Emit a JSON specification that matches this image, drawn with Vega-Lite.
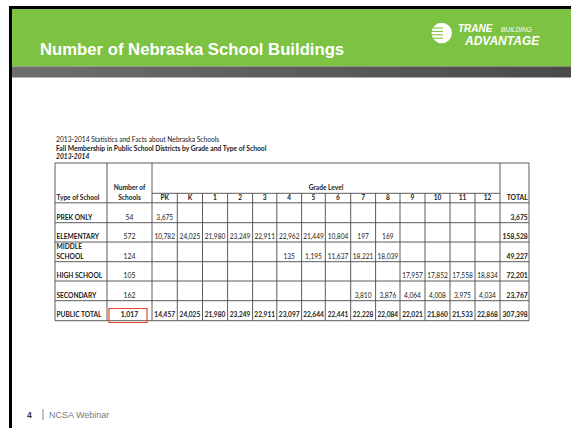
{
  "$schema": "https://vega.github.io/schema/vega-lite/v6.json",
  "width": 571,
  "height": 428,
  "padding": 0,
  "autosize": {"type": "fit", "contains": "padding"},
  "background": "white",
  "config": {"view": {"stroke": null}},
  "datasets": {
    "chrome": [
      {"part": "frame", "x": 9, "x2": 571, "y": 6, "y2": 9},
      {"part": "frame", "x": 9, "x2": 12, "y": 6, "y2": 428},
      {"part": "banner", "x": 12, "x2": 571, "y": 9, "y2": 66.5},
      {"part": "shade", "x": 12, "x2": 571, "y": 66.5, "y2": 77.5}
    ],
    "slideText": [
      {"item": "title", "label": "Number of Nebraska School Buildings", "x": 40, "y": 55},
      {"item": "trane", "label": "TRANE", "x": 458, "y": 31.5},
      {"item": "building", "label": "BUILDING", "x": 501, "y": 31.5},
      {"item": "advantage", "label": "ADVANTAGE", "x": 465, "y": 44.5},
      {"item": "page", "label": "4", "x": 27, "y": 418},
      {"item": "footer", "label": "NCSA Webinar", "x": 49, "y": 418},
      {"item": "cap1", "label": "2013-2014 Statistics and Facts about Nebraska Schools", "x": 56, "y": 141.5},
      {"item": "cap2", "label": "Fall Membership in Public School Districts by Grade and Type of School", "x": 56, "y": 150.5},
      {"item": "cap3", "label": "2013-2014", "x": 56, "y": 159.3}
    ],
    "logoMark": [{"x": 441.7, "y": 33}],
    "logoStripes": [
      {"x": 431, "x2": 443, "y": 28},
      {"x": 431, "x2": 443, "y": 31.4},
      {"x": 431, "x2": 443, "y": 34.8},
      {"x": 431, "x2": 443, "y": 38.2}
    ],
    "footerBar": [{"x": 43, "y": 409, "y2": 420}],
    "gridLines": [
      {"x": 55, "x2": 529, "y": 163, "y2": 163},
      {"x": 152, "x2": 500, "y": 193.3, "y2": 193.3},
      {"x": 55, "x2": 529, "y": 202.8, "y2": 202.8},
      {"x": 55, "x2": 529, "y": 222.7, "y2": 222.7},
      {"x": 55, "x2": 529, "y": 242, "y2": 242},
      {"x": 55, "x2": 529, "y": 261.7, "y2": 261.7},
      {"x": 55, "x2": 529, "y": 281, "y2": 281},
      {"x": 55, "x2": 529, "y": 300.7, "y2": 300.7},
      {"x": 55, "x2": 529, "y": 320.7, "y2": 320.7},
      {"x": 55, "x2": 55, "y": 163, "y2": 320.7},
      {"x": 107, "x2": 107, "y": 163, "y2": 320.7},
      {"x": 152, "x2": 152, "y": 163, "y2": 320.7},
      {"x": 500, "x2": 500, "y": 163, "y2": 320.7},
      {"x": 529, "x2": 529, "y": 163, "y2": 320.7},
      {"x": 177.3, "x2": 177.3, "y": 193.3, "y2": 320.7},
      {"x": 202.5, "x2": 202.5, "y": 193.3, "y2": 320.7},
      {"x": 227.6, "x2": 227.6, "y": 193.3, "y2": 320.7},
      {"x": 252.6, "x2": 252.6, "y": 193.3, "y2": 320.7},
      {"x": 276.8, "x2": 276.8, "y": 193.3, "y2": 320.7},
      {"x": 301.6, "x2": 301.6, "y": 193.3, "y2": 320.7},
      {"x": 325.3, "x2": 325.3, "y": 193.3, "y2": 320.7},
      {"x": 350.7, "x2": 350.7, "y": 193.3, "y2": 320.7},
      {"x": 375.6, "x2": 375.6, "y": 193.3, "y2": 320.7},
      {"x": 400, "x2": 400, "y": 193.3, "y2": 320.7},
      {"x": 425, "x2": 425, "y": 193.3, "y2": 320.7},
      {"x": 450, "x2": 450, "y": 193.3, "y2": 320.7},
      {"x": 475, "x2": 475, "y": 193.3, "y2": 320.7}
    ],
    "highlight": [{"x": 109, "x2": 147, "y": 308.5, "y2": 322.5}],
    "gradeCols": [
      {"grade": "PK", "xc": 164.7},
      {"grade": "K", "xc": 189.9},
      {"grade": "1", "xc": 215},
      {"grade": "2", "xc": 240.1},
      {"grade": "3", "xc": 264.7},
      {"grade": "4", "xc": 289.2},
      {"grade": "5", "xc": 313.5},
      {"grade": "6", "xc": 338},
      {"grade": "7", "xc": 363.1},
      {"grade": "8", "xc": 387.8},
      {"grade": "9", "xc": 412.5},
      {"grade": "10", "xc": 437.5},
      {"grade": "11", "xc": 462.5},
      {"grade": "12", "xc": 487.5}
    ],
    "tableRows": [
      {"type": "PREK ONLY", "yb": 219.6},
      {"type": "ELEMENTARY", "yb": 239},
      {"type": "MIDDLE SCHOOL", "yb": 258.7},
      {"type": "HIGH SCHOOL", "yb": 278},
      {"type": "SECONDARY", "yb": 297.6},
      {"type": "PUBLIC TOTAL", "yb": 317.4}
    ],
    "rowLabels": [
      {"type": "PREK ONLY", "line": "PREK ONLY", "dy": 0},
      {"type": "ELEMENTARY", "line": "ELEMENTARY", "dy": 0},
      {"type": "MIDDLE SCHOOL", "line": "MIDDLE", "dy": -10},
      {"type": "MIDDLE SCHOOL", "line": "SCHOOL", "dy": 0},
      {"type": "HIGH SCHOOL", "line": "HIGH SCHOOL", "dy": 0},
      {"type": "SECONDARY", "line": "SECONDARY", "dy": 0},
      {"type": "PUBLIC TOTAL", "line": "PUBLIC TOTAL", "dy": 0}
    ],
    "headers": [
      {"label": "Type of School", "x": 56.5, "y": 199.6, "align": "left"},
      {"label": "Number of", "x": 129.5, "y": 190.2, "align": "center"},
      {"label": "Schools", "x": 129.5, "y": 199.6, "align": "center"},
      {"label": "Grade Level", "x": 326, "y": 189.8, "align": "center"},
      {"label": "TOTAL", "x": 527.8, "y": 199.6, "align": "right"}
    ],
    "schools": [
      {"type": "PREK ONLY", "schools": 54, "total": 3675},
      {"type": "ELEMENTARY", "schools": 572, "total": 158528},
      {"type": "MIDDLE SCHOOL", "schools": 124, "total": 49227},
      {"type": "HIGH SCHOOL", "schools": 105, "total": 72201},
      {"type": "SECONDARY", "schools": 162, "total": 23767},
      {"type": "PUBLIC TOTAL", "schools": 1017, "total": 307398}
    ],
    "enrollment": [
      {"type": "PREK ONLY", "grade": "PK", "students": 3675},
      {"type": "ELEMENTARY", "grade": "PK", "students": 10782},
      {"type": "ELEMENTARY", "grade": "K", "students": 24025},
      {"type": "ELEMENTARY", "grade": "1", "students": 21980},
      {"type": "ELEMENTARY", "grade": "2", "students": 23249},
      {"type": "ELEMENTARY", "grade": "3", "students": 22911},
      {"type": "ELEMENTARY", "grade": "4", "students": 22962},
      {"type": "ELEMENTARY", "grade": "5", "students": 21449},
      {"type": "ELEMENTARY", "grade": "6", "students": 10804},
      {"type": "ELEMENTARY", "grade": "7", "students": 197},
      {"type": "ELEMENTARY", "grade": "8", "students": 169},
      {"type": "MIDDLE SCHOOL", "grade": "4", "students": 135},
      {"type": "MIDDLE SCHOOL", "grade": "5", "students": 1195},
      {"type": "MIDDLE SCHOOL", "grade": "6", "students": 11637},
      {"type": "MIDDLE SCHOOL", "grade": "7", "students": 18221},
      {"type": "MIDDLE SCHOOL", "grade": "8", "students": 18039},
      {"type": "HIGH SCHOOL", "grade": "9", "students": 17957},
      {"type": "HIGH SCHOOL", "grade": "10", "students": 17852},
      {"type": "HIGH SCHOOL", "grade": "11", "students": 17558},
      {"type": "HIGH SCHOOL", "grade": "12", "students": 18834},
      {"type": "SECONDARY", "grade": "7", "students": 3810},
      {"type": "SECONDARY", "grade": "8", "students": 3876},
      {"type": "SECONDARY", "grade": "9", "students": 4064},
      {"type": "SECONDARY", "grade": "10", "students": 4008},
      {"type": "SECONDARY", "grade": "11", "students": 3975},
      {"type": "SECONDARY", "grade": "12", "students": 4034},
      {"type": "PUBLIC TOTAL", "grade": "PK", "students": 14457},
      {"type": "PUBLIC TOTAL", "grade": "K", "students": 24025},
      {"type": "PUBLIC TOTAL", "grade": "1", "students": 21980},
      {"type": "PUBLIC TOTAL", "grade": "2", "students": 23249},
      {"type": "PUBLIC TOTAL", "grade": "3", "students": 22911},
      {"type": "PUBLIC TOTAL", "grade": "4", "students": 23097},
      {"type": "PUBLIC TOTAL", "grade": "5", "students": 22644},
      {"type": "PUBLIC TOTAL", "grade": "6", "students": 22441},
      {"type": "PUBLIC TOTAL", "grade": "7", "students": 22228},
      {"type": "PUBLIC TOTAL", "grade": "8", "students": 22084},
      {"type": "PUBLIC TOTAL", "grade": "9", "students": 22021},
      {"type": "PUBLIC TOTAL", "grade": "10", "students": 21860},
      {"type": "PUBLIC TOTAL", "grade": "11", "students": 21533},
      {"type": "PUBLIC TOTAL", "grade": "12", "students": 22868}
    ]
  },
  "layer": [
    {
      "data": {"name": "chrome"},
      "transform": [{"filter": "datum.part !== 'shade'"}],
      "mark": {"type": "rect"},
      "encoding": {
        "x": {"field": "x", "type": "quantitative", "scale": {"domain": [0, 571], "nice": false, "zero": false}, "axis": null},
        "x2": {"field": "x2"},
        "y": {"field": "y", "type": "quantitative", "scale": {"domain": [0, 428], "nice": false, "zero": false, "reverse": true}, "axis": null},
        "y2": {"field": "y2"},
        "color": {"field": "part", "type": "nominal", "scale": {"domain": ["frame", "banner"], "range": ["#000000", "#7dc243"]}, "legend": null}
      }
    },
    {
      "data": {"name": "chrome"},
      "transform": [{"filter": "datum.part === 'shade'"}],
      "mark": {"type": "rect", "color": {"gradient": "linear", "x1": 0, "y1": 0, "x2": 1, "y2": 0, "stops": [{"offset": 0, "color": "#6e6e6e"}, {"offset": 1, "color": "#4a4a4a"}]}},
      "encoding": {
        "x": {"field": "x", "type": "quantitative"},
        "x2": {"field": "x2"},
        "y": {"field": "y", "type": "quantitative"},
        "y2": {"field": "y2"}
      }
    },
    {
      "data": {"name": "slideText"},
      "transform": [{"filter": "datum.item === 'title'"}],
      "mark": {"type": "text", "align": "left", "baseline": "alphabetic", "font": "Liberation Sans", "fontWeight": "bold", "fontSize": 16.7, "color": "white"},
      "encoding": {"x": {"field": "x", "type": "quantitative"}, "y": {"field": "y", "type": "quantitative"}, "text": {"field": "label"}}
    },
    {
      "data": {"name": "logoMark"},
      "mark": {"type": "point", "shape": "circle", "filled": true, "size": 420, "color": "white", "opacity": 1},
      "encoding": {"x": {"field": "x", "type": "quantitative"}, "y": {"field": "y", "type": "quantitative"}}
    },
    {
      "data": {"name": "logoStripes"},
      "mark": {"type": "rule", "color": "#7dc243", "strokeWidth": 1.1},
      "encoding": {"x": {"field": "x", "type": "quantitative"}, "x2": {"field": "x2"}, "y": {"field": "y", "type": "quantitative"}}
    },
    {
      "data": {"name": "slideText"},
      "transform": [{"filter": "datum.item === 'trane'"}],
      "mark": {"type": "text", "align": "left", "baseline": "alphabetic", "font": "Liberation Sans", "fontWeight": "bold", "fontStyle": "italic", "fontSize": 10, "color": "white"},
      "encoding": {"x": {"field": "x", "type": "quantitative"}, "y": {"field": "y", "type": "quantitative"}, "text": {"field": "label"}}
    },
    {
      "data": {"name": "slideText"},
      "transform": [{"filter": "datum.item === 'building'"}],
      "mark": {"type": "text", "align": "left", "baseline": "alphabetic", "font": "Liberation Sans", "fontStyle": "italic", "fontSize": 6.5, "color": "white"},
      "encoding": {"x": {"field": "x", "type": "quantitative"}, "y": {"field": "y", "type": "quantitative"}, "text": {"field": "label"}}
    },
    {
      "data": {"name": "slideText"},
      "transform": [{"filter": "datum.item === 'advantage'"}],
      "mark": {"type": "text", "align": "left", "baseline": "alphabetic", "font": "Liberation Sans", "fontWeight": "bold", "fontStyle": "italic", "fontSize": 12, "color": "white"},
      "encoding": {"x": {"field": "x", "type": "quantitative"}, "y": {"field": "y", "type": "quantitative"}, "text": {"field": "label"}}
    },
    {
      "data": {"name": "slideText"},
      "transform": [{"filter": "datum.item === 'page'"}],
      "mark": {"type": "text", "align": "left", "baseline": "alphabetic", "font": "Liberation Sans", "fontWeight": "bold", "fontSize": 8.5, "color": "#333333"},
      "encoding": {"x": {"field": "x", "type": "quantitative"}, "y": {"field": "y", "type": "quantitative"}, "text": {"field": "label"}}
    },
    {
      "data": {"name": "footerBar"},
      "mark": {"type": "rule", "color": "#9a9a9a", "strokeWidth": 1.2},
      "encoding": {"x": {"field": "x", "type": "quantitative"}, "y": {"field": "y", "type": "quantitative"}, "y2": {"field": "y2"}}
    },
    {
      "data": {"name": "slideText"},
      "transform": [{"filter": "datum.item === 'footer'"}],
      "mark": {"type": "text", "align": "left", "baseline": "alphabetic", "font": "Liberation Sans", "fontSize": 9, "color": "#7a7a7a"},
      "encoding": {"x": {"field": "x", "type": "quantitative"}, "y": {"field": "y", "type": "quantitative"}, "text": {"field": "label"}}
    },
    {
      "data": {"name": "slideText"},
      "transform": [{"filter": "datum.item === 'cap1'"}],
      "mark": {"type": "text", "align": "left", "baseline": "alphabetic", "font": "Lato", "fontSize": 6.7, "color": "#1a1a1a"},
      "encoding": {"x": {"field": "x", "type": "quantitative"}, "y": {"field": "y", "type": "quantitative"}, "text": {"field": "label"}}
    },
    {
      "data": {"name": "slideText"},
      "transform": [{"filter": "datum.item === 'cap2'"}],
      "mark": {"type": "text", "align": "left", "baseline": "alphabetic", "font": "Lato", "fontWeight": "bold", "fontSize": 6.7, "color": "#1a1a1a"},
      "encoding": {"x": {"field": "x", "type": "quantitative"}, "y": {"field": "y", "type": "quantitative"}, "text": {"field": "label"}}
    },
    {
      "data": {"name": "slideText"},
      "transform": [{"filter": "datum.item === 'cap3'"}],
      "mark": {"type": "text", "align": "left", "baseline": "alphabetic", "font": "Lato", "fontWeight": "bold", "fontStyle": "italic", "fontSize": 6.7, "color": "#1a1a1a"},
      "encoding": {"x": {"field": "x", "type": "quantitative"}, "y": {"field": "y", "type": "quantitative"}, "text": {"field": "label"}}
    },
    {
      "data": {"name": "gridLines"},
      "mark": {"type": "rule", "color": "#4a4a4a", "strokeWidth": 0.9},
      "encoding": {"x": {"field": "x", "type": "quantitative"}, "x2": {"field": "x2"}, "y": {"field": "y", "type": "quantitative"}, "y2": {"field": "y2"}}
    },
    {
      "data": {"name": "highlight"},
      "mark": {"type": "rect", "fill": null, "fillOpacity": 0, "stroke": "#e8472f", "strokeWidth": 1.2},
      "encoding": {"x": {"field": "x", "type": "quantitative"}, "x2": {"field": "x2"}, "y": {"field": "y", "type": "quantitative"}, "y2": {"field": "y2"}}
    },
    {
      "data": {"name": "headers"},
      "transform": [{"filter": "datum.align === 'left'"}],
      "mark": {"type": "text", "align": "left", "baseline": "alphabetic", "font": "Lato", "fontWeight": "bold", "fontSize": 6.6, "color": "#1a1a1a"},
      "encoding": {"x": {"field": "x", "type": "quantitative"}, "y": {"field": "y", "type": "quantitative"}, "text": {"field": "label"}}
    },
    {
      "data": {"name": "headers"},
      "transform": [{"filter": "datum.align === 'center'"}],
      "mark": {"type": "text", "align": "center", "baseline": "alphabetic", "font": "Lato", "fontWeight": "bold", "fontSize": 6.6, "color": "#1a1a1a"},
      "encoding": {"x": {"field": "x", "type": "quantitative"}, "y": {"field": "y", "type": "quantitative"}, "text": {"field": "label"}}
    },
    {
      "data": {"name": "headers"},
      "transform": [{"filter": "datum.align === 'right'"}],
      "mark": {"type": "text", "align": "right", "baseline": "alphabetic", "font": "Lato", "fontWeight": "bold", "fontSize": 6.8, "color": "#1a1a1a"},
      "encoding": {"x": {"field": "x", "type": "quantitative"}, "y": {"field": "y", "type": "quantitative"}, "text": {"field": "label"}}
    },
    {
      "data": {"name": "gradeCols"},
      "mark": {"type": "text", "align": "center", "baseline": "alphabetic", "font": "Lato", "fontWeight": "bold", "fontSize": 6.6, "color": "#1a1a1a"},
      "encoding": {"x": {"field": "xc", "type": "quantitative"}, "y": {"datum": 199.6, "type": "quantitative"}, "text": {"field": "grade"}}
    },
    {
      "data": {"name": "rowLabels"},
      "transform": [
        {"lookup": "type", "from": {"data": {"name": "tableRows"}, "key": "type", "fields": ["yb"]}},
        {"calculate": "datum.yb + datum.dy", "as": "yl"}
      ],
      "mark": {"type": "text", "align": "left", "baseline": "alphabetic", "font": "Lato", "fontWeight": "bold", "fontSize": 6.6, "color": "#1a1a1a"},
      "encoding": {"x": {"datum": 56.5, "type": "quantitative"}, "y": {"field": "yl", "type": "quantitative"}, "text": {"field": "line"}}
    },
    {
      "data": {"name": "schools"},
      "transform": [
        {"filter": "datum.type !== 'PUBLIC TOTAL'"},
        {"lookup": "type", "from": {"data": {"name": "tableRows"}, "key": "type", "fields": ["yb"]}}
      ],
      "mark": {"type": "text", "align": "center", "baseline": "alphabetic", "font": "Lato", "fontSize": 6.8, "color": "#1a1a1a"},
      "encoding": {"x": {"datum": 129.5, "type": "quantitative"}, "y": {"field": "yb", "type": "quantitative"}, "text": {"field": "schools", "type": "quantitative", "format": ",d"}}
    },
    {
      "data": {"name": "schools"},
      "transform": [
        {"filter": "datum.type === 'PUBLIC TOTAL'"},
        {"lookup": "type", "from": {"data": {"name": "tableRows"}, "key": "type", "fields": ["yb"]}}
      ],
      "mark": {"type": "text", "align": "center", "baseline": "alphabetic", "font": "Lato", "fontWeight": "bold", "fontSize": 6.8, "color": "#1a1a1a"},
      "encoding": {"x": {"datum": 129.5, "type": "quantitative"}, "y": {"field": "yb", "type": "quantitative"}, "text": {"field": "schools", "type": "quantitative", "format": ",d"}}
    },
    {
      "data": {"name": "schools"},
      "transform": [
        {"lookup": "type", "from": {"data": {"name": "tableRows"}, "key": "type", "fields": ["yb"]}}
      ],
      "mark": {"type": "text", "align": "right", "baseline": "alphabetic", "font": "Lato", "fontWeight": "bold", "fontSize": 6.8, "color": "#1a1a1a"},
      "encoding": {"x": {"datum": 527.8, "type": "quantitative"}, "y": {"field": "yb", "type": "quantitative"}, "text": {"field": "total", "type": "quantitative", "format": ",d"}}
    },
    {
      "data": {"name": "enrollment"},
      "transform": [
        {"filter": "datum.type !== 'PUBLIC TOTAL'"},
        {"lookup": "type", "from": {"data": {"name": "tableRows"}, "key": "type", "fields": ["yb"]}},
        {"lookup": "grade", "from": {"data": {"name": "gradeCols"}, "key": "grade", "fields": ["xc"]}}
      ],
      "mark": {"type": "text", "align": "center", "baseline": "alphabetic", "font": "Lato", "fontSize": 6.6, "color": "#1a1a1a"},
      "encoding": {"x": {"field": "xc", "type": "quantitative"}, "y": {"field": "yb", "type": "quantitative"}, "text": {"field": "students", "type": "quantitative", "format": ",d"}}
    },
    {
      "data": {"name": "enrollment"},
      "transform": [
        {"filter": "datum.type === 'PUBLIC TOTAL'"},
        {"lookup": "type", "from": {"data": {"name": "tableRows"}, "key": "type", "fields": ["yb"]}},
        {"lookup": "grade", "from": {"data": {"name": "gradeCols"}, "key": "grade", "fields": ["xc"]}}
      ],
      "mark": {"type": "text", "align": "center", "baseline": "alphabetic", "font": "Lato", "fontWeight": "bold", "fontSize": 6.6, "color": "#1a1a1a"},
      "encoding": {"x": {"field": "xc", "type": "quantitative"}, "y": {"field": "yb", "type": "quantitative"}, "text": {"field": "students", "type": "quantitative", "format": ",d"}}
    }
  ]
}
